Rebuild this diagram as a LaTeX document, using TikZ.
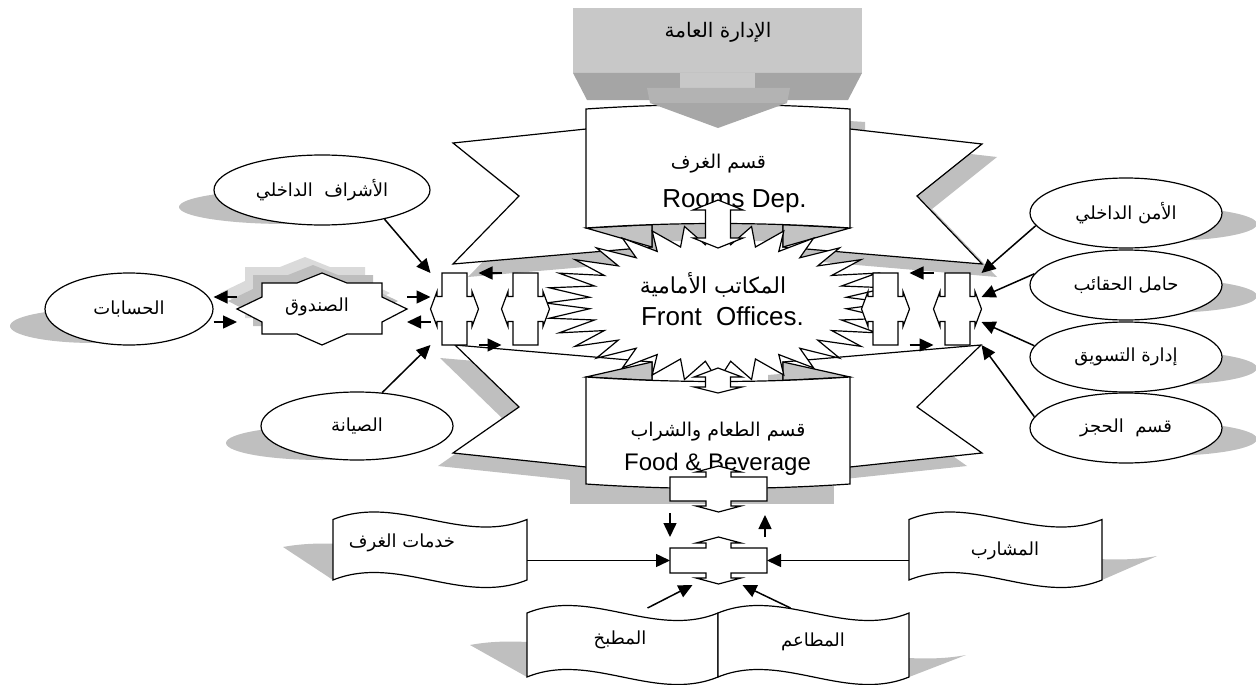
\documentclass[tikz,border=0pt]{standalone}
\usepackage{fontspec}
\setmainfont{Liberation Sans}
\newfontfamily\arabicfont[Script=Arabic]{DejaVu Sans}
\TeXXeTstate=1
\usetikzlibrary{arrows.meta,shapes.geometric}

\definecolor{shadowgrey}{HTML}{BFBFBF}
\definecolor{foldgrey}{HTML}{C3C3C3}
\definecolor{blockface}{HTML}{C8C8C8}
\definecolor{blockside}{HTML}{A5A5A5}
\definecolor{headtop}{HTML}{B3B3B3}
\definecolor{headtip}{HTML}{A7A7A7}
\definecolor{cashlight}{HTML}{DADADA}
\definecolor{cashdark}{HTML}{BEBEBE}

\newcommand\artxt[1]{{\arabicfont\beginR #1\endR}}

\tikzset{
  panel/.style={draw=black, line width=1.2pt, fill=white, line join=miter},
  fold/.style={draw=black, line width=1.2pt, fill=foldgrey, line join=miter},
  shade/.style={fill=shadowgrey, draw=none},
  arr/.style={draw=black, line width=1.5pt, -{Triangle[length=14pt,width=13pt]}},
  helper/.style={inner sep=0pt, outer sep=0pt, draw=none},
  oval/.style={ellipse, draw=black, line width=1.2pt, fill=white, inner sep=0pt,
    font=\fontsize{18}{21}\selectfont},
  arlbl/.style={inner sep=0pt, font=\fontsize{18}{21}\selectfont},
  boxar/.style={inner sep=0pt, font=\fontsize{19}{22}\selectfont},
  boxen/.style={inner sep=0pt, anchor=base, font=\fontsize{26}{30}\selectfont}
}

% left-right arrow callout: name, centre x, centre y
\newcommand\lrcallout[3]{%
  \begin{scope}[shift={(#2,#3)}]
    \draw[panel] (-12.5,-36) -- (12.5,-36) -- (12.5,-12.5) -- (17.5,-12.5) -- (17.5,-17.5)
      -- (24,0) -- (17.5,17.5) -- (17.5,12.5) -- (12.5,12.5) -- (12.5,36) -- (-12.5,36)
      -- (-12.5,12.5) -- (-17.5,12.5) -- (-17.5,17.5) -- (-24,0) -- (-17.5,-17.5)
      -- (-17.5,-12.5) -- (-12.5,-12.5) -- cycle;
    \node[helper, minimum width=48pt, minimum height=72pt] (#1) at (0,0) {};
  \end{scope}}

% up-down arrow callout: name, centre x, box top, box bottom
\newcommand\udcallout[4]{%
  \begin{scope}[shift={(#2,0)}]
    \draw[panel] (-48.5,#3) -- (-12.5,#3) -- (-12.5,{#3-5}) -- (-22.5,{#3-5}) -- (0,{#3-11})
      -- (22.5,{#3-5}) -- (12.5,{#3-5}) -- (12.5,#3) -- (48.5,#3) -- (48.5,#4)
      -- (12.5,#4) -- (12.5,{#4+5}) -- (22.5,{#4+5}) -- (0,{#4+11}) -- (-22.5,{#4+5})
      -- (-12.5,{#4+5}) -- (-12.5,#4) -- (-48.5,#4) -- cycle;
    \node[helper, minimum width=97pt, minimum height={(#4-#3)*1pt}] (#1) at (0,{(#3+#4)/2}) {};
  \end{scope}}

% wave banner: left x, top y, right x, bottom y
\newcommand\wavebox[4]{%
  \draw[panel] (#1,#2) .. controls ({#1+(#3-#1)/3},{#2-26}) and ({#1+2*(#3-#1)/3},{#2+26}) .. (#3,#2)
    -- (#3,#4) .. controls ({#1+2*(#3-#1)/3},{#4+26}) and ({#1+(#3-#1)/3},{#4-26}) .. (#1,#4) -- cycle;}

% slanted cast shadow of a wave banner: left x, shadow top y, right x, bottom y, slant
\newcommand\waveshade[5]{%
  \fill[shade] ({#1+#5},#2) .. controls ({#1+#5+(#3-#1)/3},{#2-12}) and ({#1+#5+2*(#3-#1)/3},{#2+12}) .. ({#3+#5},#2)
    -- (#3,#4) .. controls ({#1+2*(#3-#1)/3},{#4+26}) and ({#1+(#3-#1)/3},{#4-26}) .. (#1,#4) -- cycle;}

% eight-pointed seal of the cash desk, around the origin
\newcommand\cashstar[1]{%
  \path[#1] (-85,0) -- (-60,-12) -- (-60,-26) -- (-25,-26) -- (0,-36) -- (25,-26) -- (60,-26)
    -- (60,-12) -- (85,0) -- (60,13) -- (60,25) -- (25,25) -- (0,36) -- (-25,25) -- (-60,25)
    -- (-60,13) -- cycle;}

\begin{document}
\begin{tikzpicture}[x=1pt,y=-1pt]
\useasboundingbox (0,0) rectangle (1256,685);
\clip (0,0) rectangle (1256,685);

% ---------- cast shadows of the ribbons
\fill[shade, shift={(15,13)}] (586,109) .. controls (674,103) and (762,103) .. (850,109) -- (850,228) -- (586,228) -- cycle;
\fill[shade, shift={(15,13)}] (586,129) -- (453,143) -- (519,196) -- (453,264) -- (652,247) -- (652,126) -- cycle;
\fill[shade, shift={(15,13)}] (850,129) -- (982,144) -- (917,196) -- (982,264) -- (783,247) -- (783,126) -- cycle;
\fill[shade, shift={(-15,13)}] (455,345) -- (652,362) -- (652,470) -- (586,467) -- (453,453) -- (519,407) -- cycle;
\fill[shade, shift={(-15,13)}] (981,345) -- (783,362) -- (783,470) -- (850,467) -- (982,453) -- (917,407) -- cycle;
\fill[shade, shift={(-16,18)}] (586,377) rectangle (850,486);

% ---------- ribbon wings
\draw[panel] (586,129) -- (453,143) -- (519,196) -- (453,264) -- (652,247) -- (652,126) -- cycle;
\draw[panel] (850,129) -- (982,144) -- (917,196) -- (982,264) -- (783,247) -- (783,126) -- cycle;
\draw[panel] (455,345) -- (652,362) -- (652,470) -- (586,467) -- (453,453) -- (519,407) -- cycle;
\draw[panel] (981,345) -- (783,362) -- (783,470) -- (850,467) -- (982,453) -- (917,407) -- cycle;

% ---------- ribbon folds
\draw[fold] (586,228) -- (652,247) -- (652,224.6) -- cycle;
\draw[fold] (850,228) -- (783,247) -- (783,224.6) -- cycle;
\draw[fold] (586,377) -- (652,362) -- (652,380.4) -- cycle;
\draw[fold] (850,377) -- (783,362) -- (783,380.4) -- cycle;

% ---------- front offices burst
\draw[panel] (718,381) \foreach \i [evaluate=\i as \rx using {ifthenelse(isodd(\i),129,172)},
    evaluate=\i as \ry using {ifthenelse(isodd(\i),58.5,78)}] in {1,...,63}
    { -- ({718+\rx*cos(90+5.625*\i)},{303+\ry*sin(90+5.625*\i)}) } -- cycle;
\node[helper, minimum width=344pt, minimum height=156pt] (nFront) at (718,303) {};
\node[boxar, font=\fontsize{22}{26}\selectfont] (tFrontAr) at (713,285) {\artxt{المكاتب الأمامية}};
\node[boxen] (tFrontEn) at (722.5,325) {Front~~Offices.};

% ---------- rooms and food & beverage panels
\draw[panel] (586,109) .. controls (674,103) and (762,103) .. (850,109) -- (850,228)
  .. controls (762,222) and (674,222) .. (586,228) -- cycle;
\node[helper, minimum width=264pt, minimum height=119pt] (nRooms) at (718,168) {};
\node[boxar] (tRoomsAr) at (718.5,164) {\artxt{قسم الغرف}};
\node[boxen] (tRoomsEn) at (734.5,207) {Rooms Dep.};

\draw[panel] (586,377) .. controls (674,383) and (762,383) .. (850,377) -- (850,484)
  .. controls (762,490) and (674,490) .. (586,484) -- cycle;
\node[helper, minimum width=264pt, minimum height=107pt] (nFB) at (718,431) {};
\node[boxar] (tFBAr) at (718,432) {\artxt{قسم الطعام والشراب}};
\node[boxen, font=\fontsize{24}{28}\selectfont] (tFBEn) at (717.5,470) {Food \& Beverage};

% ---------- two-way arrows between the panels and the burst
\draw[panel] (718,200) -- (743,210) -- (730.5,210) -- (730.5,238) -- (743,238) -- (718,248)
  -- (693,238) -- (705.5,238) -- (705.5,210) -- (693,210) -- cycle;
\draw[panel] (718,368) -- (742,377) -- (730.5,377) -- (730.5,387) -- (742,387) -- (718,393)
  -- (694,387) -- (705.5,387) -- (705.5,377) -- (694,377) -- cycle;

\udcallout{cbA}{718.5}{477}{501}
\udcallout{cbB}{718.5}{548}{573}

% ---------- general management block
\fill[blockface] (573,8) rectangle (862,73);
\fill[blockside] (573,73) -- (862,73) -- (848,100) -- (587,100) -- cycle;
\fill[blockface] (680,73) rectangle (755,88);
\fill[headtop] (647,88) -- (790,88) -- (787,103) -- (650,103) -- cycle;
\fill[headtip] (650,103) -- (787,103) -- (718,128) -- cycle;
\node[boxar, font=\fontsize{20}{24}\selectfont] (nGM) at (718,32) {\artxt{الإدارة العامة}};

% ---------- side callouts
\lrcallout{L1}{454.5}{309}
\lrcallout{L2}{525.5}{309}
\lrcallout{R1}{885.5}{309}
\lrcallout{R2}{957.5}{309}

% ---------- ovals on the left
\fill[shade] (287,207) ellipse [x radius=108pt, y radius=17pt];
\fill[shade] (94,326) ellipse [x radius=84pt, y radius=17pt];
\fill[shade] (322,443) ellipse [x radius=96pt, y radius=17pt];
\node[oval, minimum width=216pt, minimum height=70pt] (nSuper) at (322,190) {\artxt{الأشراف~~الداخلي}};
\node[oval, minimum width=168pt, minimum height=72pt] (nAcc) at (129,309) {\artxt{الحسابات}};
\node[oval, minimum width=192pt, minimum height=68pt] (nMaint) at (357,426) {\artxt{الصيانة}};

% ---------- ovals on the right
\fill[shade] (1161,224) ellipse [x radius=96pt, y radius=17pt];
\fill[shade] (1161,296) ellipse [x radius=96pt, y radius=17pt];
\fill[shade] (1161,368) ellipse [x radius=96pt, y radius=17pt];
\fill[shade] (1161,439) ellipse [x radius=96pt, y radius=17pt];
\node[oval, minimum width=192pt, minimum height=70pt] (nSec) at (1126,213) {\artxt{الأمن الداخلي}};
\node[oval, minimum width=192pt, minimum height=70pt] (nBell) at (1126,285) {\artxt{حامل الحقائب}};
\node[oval, minimum width=192pt, minimum height=70pt] (nMkt) at (1126,357) {\artxt{إدارة التسويق}};
\node[oval, minimum width=192pt, minimum height=70pt] (nRes) at (1126,428) {\artxt{قسم~~الحجز}};

% ---------- cash desk seal
\begin{scope}[shift={(322,309)}]
  \cashstar{fill=cashlight, shift={(-17,-16)}}
  \cashstar{fill=cashdark, shift={(-9,-8)}}
  \cashstar{panel}
  \node[helper, minimum width=170pt, minimum height=72pt] (nCash) at (0,0) {};
  \node[arlbl] (tCash) at (-5,-2) {\artxt{الصندوق}};
\end{scope}

% ---------- wave banners of the food & beverage sections
\waveshade{333}{547}{527}{580}{-50}
\waveshade{909}{556}{1102}{580}{55}
\waveshade{527}{645}{718}{677}{-57}
\waveshade{718}{655}{909}{677}{57}
\wavebox{333}{519.5}{527}{580}
\wavebox{909}{519.5}{1102}{580}
\wavebox{527}{613}{718}{677}
\wavebox{718}{613}{909}{677}
\node[helper, minimum width=194pt, minimum height=60pt] (nRS) at (430,550) {};
\node[helper, minimum width=193pt, minimum height=60pt] (nBar) at (1005.5,550) {};
\node[helper, minimum width=191pt, minimum height=64pt] (nKitchen) at (622.5,645) {};
\node[helper, minimum width=191pt, minimum height=64pt] (nRest) at (813.5,645) {};
\node[arlbl] (tRS) at (402,543) {\artxt{خدمات الغرف}};
\node[arlbl] (tBar) at (1005,551) {\artxt{المشارب}};
\node[arlbl] (tKitchen) at (620,640) {\artxt{المطبخ}};
\node[arlbl] (tRest) at (813,642) {\artxt{المطاعم}};

% ---------- connectors
\draw[arr] (nSuper.-25) -- (L1.north west);
\draw[arr] (nMaint.53) -- (L1.south west);
\draw[arr] ([yshift=12pt]nCash.west) -- ([yshift=12pt]nAcc.east);
\draw[arr] ([yshift=-13pt]nAcc.east) -- ([yshift=-13pt]nCash.west);
\draw[arr] ([yshift=12pt]nCash.east) -- ([yshift=12pt]L1.west);
\draw[arr] ([yshift=-13pt]L1.west) -- ([yshift=-13pt]nCash.east);
\draw[arr] (L2.north west) -- (L1.north east);
\draw[arr] (L1.south east) -- (L2.south west);
\draw[arr] (R2.north west) -- (R1.north east);
\draw[arr] (R1.south east) -- (R2.south west);
\draw[arr] (nSec.188) -- (R2.north east);
\draw[arr] (nBell.173) -- ([yshift=12pt]R2.east);
\draw[arr] (nMkt.173) -- ([yshift=-13pt]R2.east);
\draw[arr] (nRes.173) -- (R2.south east);
\draw[arr] ([yshift=-12pt]cbA.south west) -- ([yshift=11pt]cbB.north west);
\draw[arr] ([xshift=-2pt,yshift=11pt]cbB.north east) -- ([xshift=-2pt,yshift=-14pt]cbA.south east);
\draw[arr] (nRS.east |- cbB.west) -- (cbB.west);
\draw[arr] (nBar.west |- cbB.east) -- (cbB.east);
\draw[arr] ([xshift=25pt,yshift=5pt]nKitchen.north) -- ([xshift=-26pt,yshift=-12pt]cbB.south);
\draw[arr] ([xshift=-23pt,yshift=5pt]nRest.north) -- ([xshift=24pt,yshift=-12pt]cbB.south);
\end{tikzpicture}
\end{document}
